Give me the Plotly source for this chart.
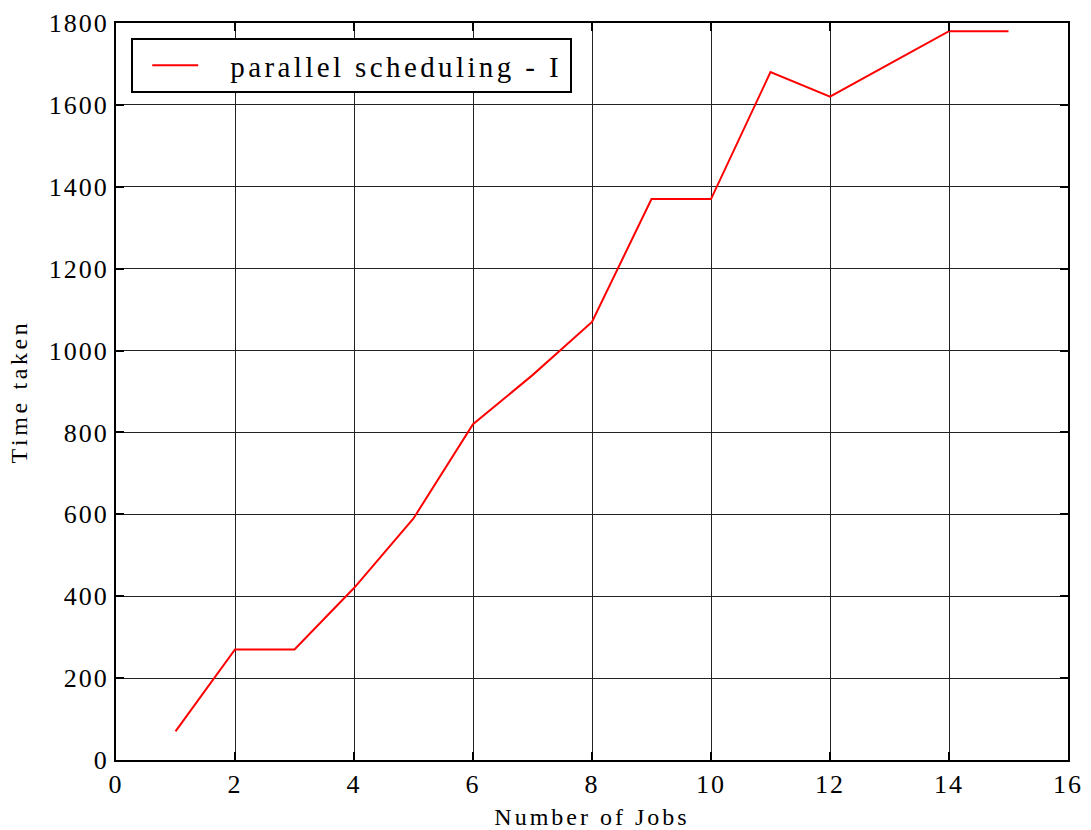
import plotly.graph_objects as go

# Number of jobs vs. time taken
jobs = [1, 2, 3, 4, 5, 6, 7, 8, 9, 10, 11, 12, 13, 14, 15]
time_taken = [70, 270, 270, 420, 590, 820, 940, 1070, 1370, 1370, 1680, 1620, 1700, 1780, 1780]

x_ticks = [0, 2, 4, 6, 8, 10, 12, 14, 16]
y_ticks = [0, 200, 400, 600, 800, 1000, 1200, 1400, 1600, 1800]

FONT = "Liberation Serif, Times New Roman, serif"

fig = go.Figure()
fig.add_trace(go.Scatter(
    x=jobs, y=time_taken, mode="lines",
    name="parallel scheduling - I",
    line=dict(color="#ff0000", width=2),
))

axis_common = dict(
    showline=True, linecolor="black", linewidth=2, mirror="ticks",
    ticks="inside", ticklen=8, tickwidth=2, tickcolor="black",
    showgrid=True, gridcolor="#222222", gridwidth=1,
    zeroline=False, automargin=False,
    tickfont=dict(family=FONT, size=26, color="black"),
)

fig.update_layout(
    width=1091, height=830,
    margin=dict(l=116, r=23, t=23, b=70),
    paper_bgcolor="white", plot_bgcolor="white",
    font=dict(family=FONT, color="black"),
    showlegend=True,
    legend=dict(
        x=0.016, y=0.9797, xanchor="left", yanchor="top",
        bgcolor="white", bordercolor="black", borderwidth=2,
        font=dict(family=FONT, size=29, color="black"),
    ),
    xaxis=dict(
        range=[0, 16], tickvals=x_ticks, ticktext=[str(v) for v in x_ticks],
        title=dict(text="Number of Jobs", font=dict(family=FONT, size=24), standoff=10),
        **axis_common,
    ),
    yaxis=dict(
        range=[0, 1800], tickvals=y_ticks, ticktext=[str(v) for v in y_ticks],
        title=dict(text="Time taken", font=dict(family=FONT, size=24), standoff=22),
        **axis_common,
    ),
)

# Wide letter spacing on the labels and a legend box sized to the spaced text
post = """
var gd = document.getElementById('{plot_id}');
function spaceText() {
  gd.querySelectorAll('.xtitle').forEach(function(t){ t.style.letterSpacing = '3px'; });
  gd.querySelectorAll('.ytitle').forEach(function(t){ t.style.letterSpacing = '3.6px'; });
  gd.querySelectorAll('.xtick text, .ytick text').forEach(function(t){ t.style.letterSpacing = '2px'; });
  var leg = gd.querySelector('.legend');
  if (!leg) return;
  var tr = leg.querySelector('.traces');
  var m = /translate\\(([-\\d.]+)[ ,]+([-\\d.]+)\\)/.exec(tr.getAttribute('transform') || '');
  var tx = m ? parseFloat(m[1]) : 0;
  var line = tr.querySelector('.legendlines path');
  if (line) line.setAttribute('d', 'M' + (21 - tx) + ',0h46');
  var txt = tr.querySelector('.legendtext');
  txt.style.letterSpacing = '3.4px';
  txt.setAttribute('x', 99 - tx);
  var bb = txt.getBBox();
  var bg = leg.querySelector('rect.bg');
  bg.setAttribute('width', tx + bb.x + bb.width + 8);
  var sb = leg.querySelector('.scrollbox');
  if (sb) sb.removeAttribute('clip-path');
}
spaceText();
gd.on('plotly_afterplot', spaceText);
"""

fig.write_html("out.html", post_script=post)
